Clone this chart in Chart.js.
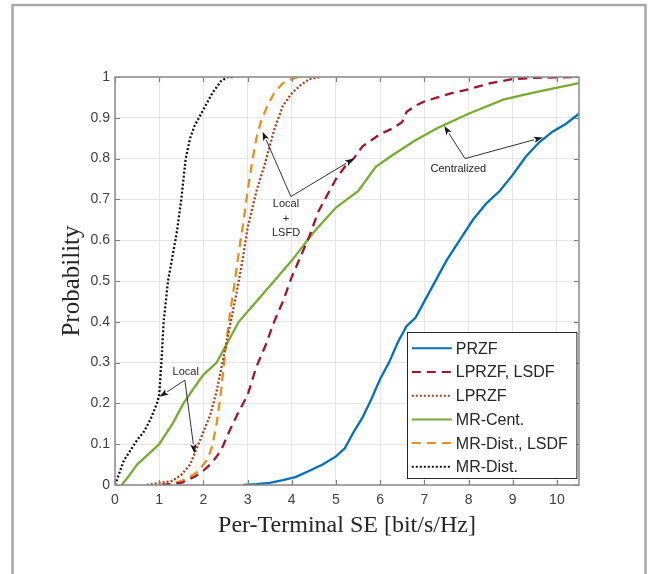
<!DOCTYPE html>
<html><head><meta charset="utf-8">
<script src="https://cdn.jsdelivr.net/npm/chart.js@4/dist/chart.umd.min.js"></script>
<style>html,body{margin:0;padding:0;background:#fff;}</style>
</head><body>
<canvas id="c" width="651" height="574"></canvas>
<script>
// ---------- data ----------
const xTicks = [0,1,2,3,4,5,6,7,8,9,10];
const yTicks = [0,0.1,0.2,0.3,0.4,0.5,0.6,0.7,0.8,0.9,1];

const przfX = [2.9,3.2,3.5,3.8,4.1,4.4,4.7,5.0,5.2,5.4,5.6,5.8,6.0,6.2,6.4,6.6,6.8,7.0,7.2,7.5,7.8,8.1,8.4,8.7,9.0,9.3,9.6,9.9,10.2,10.5];
const przfY = [0,0.002,0.005,0.012,0.02,0.035,0.05,0.07,0.09,0.13,0.165,0.21,0.26,0.3,0.35,0.39,0.41,0.45,0.49,0.55,0.6,0.65,0.69,0.72,0.76,0.805,0.84,0.866,0.885,0.91];

const lprzfLsdfX = [1.05,1.5,1.8,2.0,2.2,2.4,2.6,2.8,3.0,3.2,3.4,3.6,3.8,4.0,4.2,4.4,4.6,4.8,5.0,5.2,5.4,5.6,5.8,6.0,6.3,6.5,6.6,6.8,7.0,7.3,7.6,8.0,8.5,9.0,9.5,10.5];
const lprzfLsdfY = [0,0.005,0.02,0.035,0.055,0.085,0.135,0.18,0.22,0.29,0.34,0.4,0.45,0.51,0.56,0.61,0.67,0.71,0.75,0.78,0.80,0.83,0.845,0.86,0.875,0.89,0.915,0.93,0.94,0.95,0.96,0.97,0.985,0.995,0.998,1.0];

const lprzfX = [0.72,1.0,1.3,1.5,1.7,1.85,2.0,2.15,2.3,2.45,2.6,2.75,2.9,3.0,3.2,3.4,3.6,3.8,4.0,4.2,4.4,4.65];
const lprzfY = [0,0.005,0.01,0.025,0.05,0.09,0.13,0.17,0.23,0.31,0.39,0.47,0.56,0.63,0.72,0.79,0.87,0.93,0.96,0.98,0.995,1.0];

const mrCentX = [0.15,0.3,0.5,0.8,1.0,1.3,1.55,1.8,2.0,2.3,2.55,2.8,3.2,3.6,4.0,4.5,5.0,5.5,5.9,6.3,6.8,7.3,8.0,8.8,9.6,10.5];
const mrCentY = [0,0.02,0.05,0.08,0.1,0.15,0.2,0.24,0.27,0.3,0.35,0.4,0.45,0.5,0.55,0.62,0.68,0.72,0.78,0.81,0.845,0.875,0.91,0.945,0.965,0.985];

const mrDistLsdfX = [1.05,1.3,1.5,1.7,1.9,2.1,2.2,2.3,2.4,2.5,2.6,2.7,2.8,2.9,3.0,3.1,3.2,3.3,3.45,3.6,3.8,4.0,4.15];
const mrDistLsdfY = [0,0.003,0.01,0.02,0.035,0.065,0.095,0.15,0.23,0.33,0.42,0.49,0.57,0.64,0.72,0.79,0.85,0.89,0.93,0.96,0.985,0.995,1.0];

const mrDistX = [0,0.1,0.2,0.35,0.5,0.65,0.8,0.95,1.0,1.05,1.1,1.2,1.3,1.4,1.5,1.6,1.7,1.8,1.9,2.0,2.2,2.4,2.55,2.7];
const mrDistY = [0,0.03,0.06,0.085,0.11,0.13,0.16,0.2,0.22,0.3,0.4,0.5,0.56,0.62,0.7,0.8,0.85,0.88,0.9,0.92,0.96,0.99,1.0,1.0];

const seriesNames = ['PRZF','LPRZF, LSDF','LPRZF','MR-Cent.','MR-Dist., LSDF','MR-Dist.'];

// annotations (data coordinates)
const annoTexts = [
  {lines:['Local'], x:1.6, y:0.278},
  {lines:['Local','+','LSFD'], x:3.87, y:0.688},
  {lines:['Centralized'], x:7.77, y:0.774}
];
const annoArrows = [
  {from:[1.58,0.257], to:[1.01,0.216]},
  {from:[1.58,0.257], to:[1.80,0.078]},
  {from:[3.98,0.707], to:[3.34,0.866]},
  {from:[3.98,0.707], to:[5.41,0.800]},
  {from:[7.92,0.800], to:[7.45,0.880]},
  {from:[7.92,0.800], to:[9.68,0.852]}
];

// ---------- build ----------
const pts = (xs, ys) => xs.map((v,i)=>({x:v, y:ys[i]}));
const styles = [
  {color:'#0072BD', dash:[]},
  {color:'#A2142F', dash:[9,6]},
  {color:'#A3401B', dash:[2,2]},
  {color:'#77AC30', dash:[]},
  {color:'#E8901E', dash:[9,6]},
  {color:'#111111', dash:[2,2]}
];
const seriesData = [
  pts(przfX,przfY), pts(lprzfLsdfX,lprzfLsdfY), pts(lprzfX,lprzfY),
  pts(mrCentX,mrCentY), pts(mrDistLsdfX,mrDistLsdfY), pts(mrDistX,mrDistY)
];
const datasets = seriesData.map((d,i)=>({
  label: seriesNames[i], data: d, showLine:true, pointRadius:0, borderWidth:2.3,
  borderColor: styles[i].color, backgroundColor: styles[i].color,
  borderDash: styles[i].dash, tension:0, fill:false
}));

const framePlugin = {
  id:'frame',
  beforeDraw(chart){
    const c = chart.ctx; c.save();
    c.fillStyle='#fff'; c.fillRect(0,0,chart.width,chart.height);
    c.strokeStyle='#a8a8a8'; c.lineWidth=2.5;
    c.strokeRect(12.5,5,633,640);
    c.restore();
  }
};

const boxPlugin = {
  id:'box',
  afterDatasetsDraw(chart){
    const c = chart.ctx, a = chart.chartArea, sx = chart.scales.x, sy = chart.scales.y;
    c.save();
    c.strokeStyle='#808080'; c.lineWidth=1.2;
    c.beginPath();
    xTicks.forEach(v=>{ const p = Math.round(sx.getPixelForValue(v))+0.5;
      c.moveTo(p,a.bottom); c.lineTo(p,a.bottom-5); c.moveTo(p,a.top); c.lineTo(p,a.top+5); });
    yTicks.forEach(v=>{ const p = Math.round(sy.getPixelForValue(v))+0.5;
      c.moveTo(a.left,p); c.lineTo(a.left+5,p); c.moveTo(a.right,p); c.lineTo(a.right-5,p); });
    c.stroke();
    c.lineWidth=1.5; c.strokeStyle='#8a8a8a';
    c.strokeRect(a.left, a.top, a.right-a.left, a.bottom-a.top);
    c.restore();

    // annotations
    c.save();
    c.strokeStyle='#1a1a1a'; c.fillStyle='#1a1a1a'; c.lineWidth=0.9;
    annoArrows.forEach(ar=>{
      const x0=sx.getPixelForValue(ar.from[0]), y0=sy.getPixelForValue(ar.from[1]);
      const x1=sx.getPixelForValue(ar.to[0]), y1=sy.getPixelForValue(ar.to[1]);
      const ang=Math.atan2(y1-y0,x1-x0), L=9, W=3.2;
      const bx=x1-L*Math.cos(ang), by=y1-L*Math.sin(ang);
      c.beginPath(); c.moveTo(x0,y0); c.lineTo(bx,by); c.stroke();
      c.beginPath(); c.moveTo(x1,y1);
      c.lineTo(bx+W*Math.sin(ang), by-W*Math.cos(ang));
      c.lineTo(bx+2*Math.cos(ang), by+2*Math.sin(ang));
      c.lineTo(bx-W*Math.sin(ang), by+W*Math.cos(ang));
      c.closePath(); c.fill();
    });
    c.fillStyle='#262626'; c.font='11px "Liberation Sans", Arial, sans-serif';
    c.textAlign='center'; c.textBaseline='middle';
    annoTexts.forEach(t=>{
      const px=sx.getPixelForValue(t.x), py=sy.getPixelForValue(t.y);
      t.lines.forEach((ln,i)=>c.fillText(ln, px, py+i*14.5));
    });
    c.restore();
  },
  afterDraw(chart){
    // legend
    const c = chart.ctx, a = chart.chartArea;
    const L = a.right-171.7, T = a.top+254.7, W = 169.4, H = 146;
    c.save();
    c.fillStyle='#fff'; c.fillRect(L,T,W,H);
    c.strokeStyle='#262626'; c.lineWidth=1; c.strokeRect(Math.round(L)+0.5,Math.round(T)+0.5,W,H);
    c.font='16px "Liberation Sans", Arial, sans-serif'; c.textBaseline='middle'; c.textAlign='left';
    chart.data.datasets.forEach((ds,i)=>{
      const yy = T + 16.6 + i*23.7;
      c.strokeStyle=ds.borderColor; c.lineWidth=2; c.setLineDash(ds.borderDash);
      c.beginPath(); c.moveTo(L+4.5,yy); c.lineTo(L+44.5,yy); c.stroke();
      c.setLineDash([]);
      c.fillStyle='#262626'; c.fillText(ds.label, L+48.5, yy+1);
    });
    c.restore();
  }
};

const tickFont = {family:'"Liberation Sans", Arial, sans-serif', size:14};
new Chart(document.getElementById('c'), {
  type:'scatter',
  data:{datasets},
  options:{
    responsive:false, animation:false, devicePixelRatio:1,
    layout:{padding:{left:57, top:77, right:72, bottom:34}},
    plugins:{legend:{display:false}, tooltip:{enabled:false}, title:{display:false}},
    scales:{
      x:{type:'linear', min:0, max:10.5,
        afterBuildTicks:s=>{s.ticks = xTicks.map(v=>({value:v}));},
        afterFit:s=>{s.height=55;},
        grid:{color:'#e6e6e6', lineWidth:1, drawTicks:false},
        border:{display:false},
        ticks:{padding:7, color:'#404040', font:tickFont, maxRotation:0, autoSkip:false, callback:v=>String(v)},
        title:{display:true, text:'Per-Terminal SE [bit/s/Hz]', color:'#262626', padding:0,
          font:{family:'"Liberation Serif", "Times New Roman", serif', size:24}}
      },
      y:{type:'linear', min:0, max:1,
        afterBuildTicks:s=>{s.ticks = yTicks.map(v=>({value:v}));},
        afterFit:s=>{s.width=58;},
        grid:{color:'#e6e6e6', lineWidth:1, drawTicks:false},
        border:{display:false},
        ticks:{padding:5, color:'#404040', font:tickFont, autoSkip:false, callback:v=>String(Number(v.toFixed(1)))},
        title:{display:true, text:'Probability', color:'#262626', padding:0,
          font:{family:'"Liberation Serif", "Times New Roman", serif', size:25}}
      }
    }
  },
  plugins:[framePlugin, boxPlugin]
});
</script>
</body></html>
